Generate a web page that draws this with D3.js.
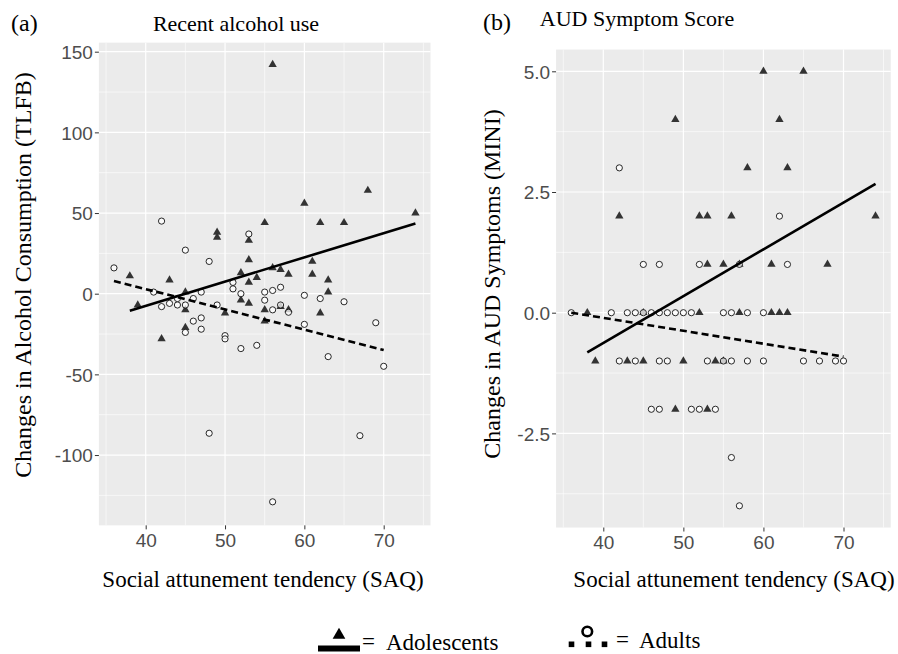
<!DOCTYPE html>
<html>
<head>
<meta charset="utf-8">
<script src="https://cdn.jsdelivr.net/npm/d3@7"></script>
<style>
  html,body{margin:0;padding:0;background:#fff;}
  svg{display:block;}
</style>
</head>
<body>
<svg id="chart" width="898" height="654"></svg>
<script>
// ---------- DATA ----------
// Panel (a): Recent alcohol use (TLFB change) vs SAQ
const adolAlcohol = [
  [56,142],[68,64],[60,56],[74,50],[55,44],[62,44],[65,44],[49,38],[49,35],[53,33],
  [53,21],[61,20],[61,12],[38,11],[52,13],[56,16],[57,15],[58,12],[54,10],[43,8.5],
  [63,8.5],[53,7],[63,1],[45,1],[39,-7],[45,-10],[45,-21],[42,-28],[50,-12],[52,-4],
  [53,-6],[55,-10],[55,-17],[57,-8],[58,-10],[62,-12]
];
const adultAlcohol = [
  [42,45],[53,37],[45,27],[48,20],[36,16],[51,7],[51,3],[52,0],[55,1],[55,-4],
  [56,2],[57,4],[60,-1],[62,-3],[65,-5],[60,-19],[69,-18],[63,-39],[70,-45],[67,-88],
  [48,-86.5],[56,-129],[41,1],[42,-8],[43,-6],[44,-7],[44,-3],[45,-7],[46,-3],[47,1],
  [46,-17],[47,-15],[47,-22],[45,-24],[49,-7],[50,-26],[50,-28],[52,-34],[54,-32],[56,-10],
  [57,-7],[58,-11.5]
];
const adolAlcoholFit  = [[38,-10.5],[74,43.5]];
const adultAlcoholFit = [[36,7.9],[70,-34.9]];

// Panel (b): AUD symptom score change (MINI) vs SAQ
const adolAUD = [
  [60,5],[65,5],[49,4],[62,4],[58,3],[63,3],[42,2],[52,2],[53,2],[56,2],[74,2],
  [53,1],[55,1],[57,1],[61,1],[68,1],
  [38,0],[45,0],[52,0],[57,0],[61,0],[62,0],[63,0],
  [39,-1],[43,-1],[45,-1],[50,-1],[54,-1],[55,-1],
  [49,-2],[53,-2]
];
const adultAUD = [
  [42,3],[62,2],
  [45,1],[47,1],[52,1],[57,1],[63,1],
  [36,0],[41,0],[43,0],[44,0],[45,0],[46,0],[47,0],[48,0],[49,0],[50,0],[51,0],[55,0],[56,0],[58,0],[60,0],
  [42,-1],[44,-1],[47,-1],[48,-1],[53,-1],[55,-1],[56,-1],[58,-1],[60,-1],[65,-1],[67,-1],[69,-1],[70,-1],
  [46,-2],[47,-2],[51,-2],[52,-2],[54,-2],
  [56,-3],[57,-4]
];
const adolAUDFit  = [[38,-0.82],[74,2.67]];
const adultAUDFit = [[36,0.0],[70,-0.91]];

const xTicks = [40,50,60,70];
const yTicksA = [-100,-50,0,50,100,150];
const yTicksB = [-2.5,0,2.5,5.0];
const xLimits = [34.1,75.9];
const yLimitsA = [-143.6,155.6];
const yLimitsB = [-4.45,5.45];

const panelTitles = ["Recent alcohol use","AUD Symptom Score"];
const panelTags = ["(a)","(b)"];
const yTitles = ["Changes in Alcohol Consumption (TLFB)","Changes in AUD Symptoms (MINI)"];
const xTitle = "Social attunement tendency (SAQ)";
const legendLabels = ["Adolescents","Adults"];

// ---------- DRAW ----------
const svg = d3.select("#chart");
const SERIF = "'Liberation Serif','Times New Roman',serif";
const SANS = "'Liberation Sans',Arial,Helvetica,sans-serif";
const hyphen = f => (d => f(d).replace("\u2212","-"));

function drawPanel(cfg){
  const {x, y, xlim, ylim, yTicks, yFmt, adol, adult, adolFit, adultFit} = cfg;
  const g = svg.append("g");
  const x0 = x(xlim[0]), x1 = x(xlim[1]), y0 = y(ylim[1]), y1 = y(ylim[0]);
  g.append("rect").attr("x",x0).attr("y",y0).attr("width",x1-x0).attr("height",y1-y0).attr("fill","#EBEBEB");

  // minor grid
  const xMinor = [];
  for(let i=0;i<xTicks.length+1;i++){ xMinor.push((xTicks[0]-5)+i*10); }
  const yStep = yTicks[1]-yTicks[0];
  const yMinor = [];
  for(let i=0;i<yTicks.length+1;i++){ yMinor.push(yTicks[0]-yStep/2+i*yStep); }
  const clipX = xMinor.filter(v=>v>=xlim[0]&&v<=xlim[1]);
  const clipY = yMinor.filter(v=>v>=ylim[0]&&v<=ylim[1]);
  g.selectAll(".mx").data(clipX).join("line").attr("x1",d=>x(d)).attr("x2",d=>x(d)).attr("y1",y0).attr("y2",y1).attr("stroke","#fff").attr("stroke-width",0.6);
  g.selectAll(".my").data(clipY).join("line").attr("y1",d=>y(d)).attr("y2",d=>y(d)).attr("x1",x0).attr("x2",x1).attr("stroke","#fff").attr("stroke-width",0.6);
  // major grid
  g.selectAll(".gx").data(xTicks).join("line").attr("x1",d=>x(d)).attr("x2",d=>x(d)).attr("y1",y0).attr("y2",y1).attr("stroke","#fff").attr("stroke-width",1.2);
  g.selectAll(".gy").data(yTicks).join("line").attr("y1",d=>y(d)).attr("y2",d=>y(d)).attr("x1",x0).attr("x2",x1).attr("stroke","#fff").attr("stroke-width",1.2);

  // axes
  const ax = g.append("g").attr("transform",`translate(0,${y1})`)
    .call(d3.axisBottom(x).tickValues(xTicks).tickSize(4).tickPadding(3));
  const ay = g.append("g").attr("transform",`translate(${x0},0)`)
    .call(d3.axisLeft(y).tickValues(yTicks).tickSize(4).tickPadding(2).tickFormat(hyphen(yFmt)));
  [ax,ay].forEach(a=>{
    a.select(".domain").remove();
    a.selectAll(".tick line").attr("stroke","#333").attr("stroke-width",1);
    a.selectAll(".tick text").attr("fill","#4D4D4D").style("font-family",SANS).style("font-size","19px");
  });
  ax.selectAll(".tick text").attr("dy","0.78em");
  ay.selectAll(".tick text").attr("dy","0.36em");

  // points
  const tri = d3.symbol().type(d3.symbolTriangle).size(30);
  g.append("g").selectAll("path").data(adol).join("path")
    .attr("d",tri).attr("transform",d=>`translate(${x(d[0])},${y(d[1])})`)
    .attr("fill","#333");
  g.append("g").selectAll("circle").data(adult).join("circle")
    .attr("cx",d=>x(d[0])).attr("cy",d=>y(d[1])).attr("r",3.1)
    .attr("fill","#fff").attr("fill-opacity",0.75).attr("stroke","#111").attr("stroke-width",0.9);

  // fit lines
  const line = d3.line().x(d=>x(d[0])).y(d=>y(d[1]));
  g.append("path").attr("d",line(adolFit)).attr("stroke","#000").attr("stroke-width",2.6).attr("fill","none");
  g.append("path").attr("d",line(adultFit)).attr("stroke","#000").attr("stroke-width",2.6).attr("fill","none").attr("stroke-dasharray","7,4");
  return g;
}

const xA = d3.scaleLinear().domain([40,70]).range([145.7,383.7]);
const yA = d3.scaleLinear().domain([0,150]).range([293.7,51.7]);
const xB = d3.scaleLinear().domain([40,70]).range([603.3,843.5]);
const yB = d3.scaleLinear().domain([0,5]).range([312.7,71.3]);

drawPanel({x:xA,y:yA,xlim:xLimits,ylim:yLimitsA,yTicks:yTicksA,yFmt:d3.format("d"),
  adol:adolAlcohol,adult:adultAlcohol,adolFit:adolAlcoholFit,adultFit:adultAlcoholFit});
drawPanel({x:xB,y:yB,xlim:xLimits,ylim:yLimitsB,yTicks:yTicksB,yFmt:d3.format(".1f"),
  adol:adolAUD,adult:adultAUD,adolFit:adolAUDFit,adultFit:adultAUDFit});

// titles
function txt(t,xp,yp,size,anchor){
  return svg.append("text").attr("x",xp).attr("y",yp).attr("text-anchor",anchor||"start")
    .style("font-family",SERIF).style("font-size",size+"px").attr("fill","#000").text(t);
}
txt(panelTags[0],11,31,24);
txt(panelTitles[0],236,31,22,"middle");
txt(panelTags[1],483,30,24);
txt(panelTitles[1],637,26,22,"middle");

txt(xTitle,263,587,23,"middle");
txt(xTitle,734,587,23,"middle");

svg.append("text").attr("transform","translate(31,275) rotate(-90)").attr("text-anchor","middle")
  .style("font-family",SERIF).style("font-size","24px").text(yTitles[0]);
svg.append("text").attr("transform","translate(500,284) rotate(-90)").attr("text-anchor","middle")
  .style("font-family",SERIF).style("font-size","24px").text(yTitles[1]);

// legend
const lg = svg.append("g");
lg.append("path").attr("d",d3.symbol().type(d3.symbolTriangle).size(70)).attr("transform","translate(339,635)").attr("fill","#000");
lg.append("rect").attr("x",318).attr("y",645.5).attr("width",42).attr("height",6).attr("fill","#000");
txt("=",362,649,23);
txt(legendLabels[0],386,650,23);
lg.append("circle").attr("cx",587.3).attr("cy",631.5).attr("r",4.8).attr("fill","none").attr("stroke","#000").attr("stroke-width",2.6);
[571.5,588.5,604.5].forEach(cx=>{
  lg.append("rect").attr("x",cx-2.8).attr("y",641.5).attr("width",5.6).attr("height",5.6).attr("fill","#000");
});
txt("=",616,647,23);
txt(legendLabels[1],639,648,23);
</script>
</body>
</html>
